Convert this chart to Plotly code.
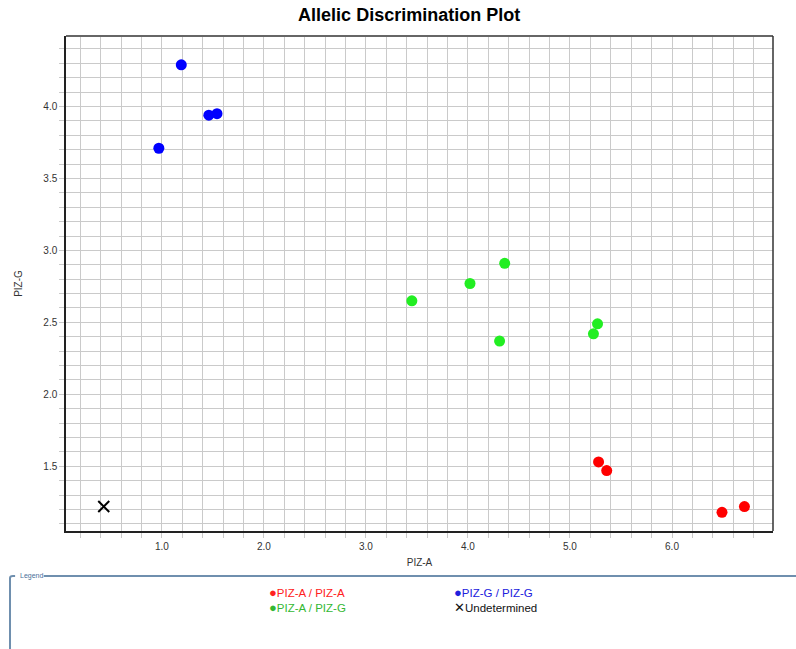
import plotly.graph_objects as go

# ---- data ----
aa_x = [5.28, 5.36, 6.49, 6.71]
aa_y = [1.53, 1.47, 1.18, 1.22]
gg_x = [0.97, 1.19, 1.46, 1.54]
gg_y = [3.71, 4.29, 3.94, 3.95]
ag_x = [3.45, 4.02, 4.36, 4.31, 5.23, 5.27]
ag_y = [2.65, 2.77, 2.91, 2.37, 2.42, 2.49]
und_x = [0.43]
und_y = [1.22]

legend_labels = ["PIZ-A / PIZ-A", "PIZ-G / PIZ-G", "PIZ-A / PIZ-G", "Undetermined"]

FONT = "Liberation Sans, Arial, sans-serif"

fig = go.Figure()
fig.add_trace(go.Scatter(x=aa_x, y=aa_y, mode="markers", name=legend_labels[0],
                         marker=dict(color="#ff0000", size=11)))
fig.add_trace(go.Scatter(x=gg_x, y=gg_y, mode="markers", name=legend_labels[1],
                         marker=dict(color="#0000ff", size=11)))
fig.add_trace(go.Scatter(x=ag_x, y=ag_y, mode="markers", name=legend_labels[2],
                         marker=dict(color="#22ee22", size=11)))
fig.add_trace(go.Scatter(x=und_x, y=und_y, mode="markers", name=legend_labels[3],
                         marker=dict(symbol="x-thin", color="black", size=11,
                                     line=dict(color="black", width=2))))

grid = "#cacaca"
axis_common = dict(
    showgrid=True, gridcolor=grid, gridwidth=1,
    ticks="outside", ticklen=5, tickcolor=grid, tickwidth=1,
    showline=True, linecolor="#222222", linewidth=1.5, mirror=False,
    zeroline=False, tickformat=".1f", automargin=False,
    tickfont=dict(family=FONT, size=10, color="#333333"),
)

fig.update_xaxes(range=[0.06, 6.99], tick0=0, dtick=1,
                 minor=dict(dtick=0.2, showgrid=True, gridcolor=grid, gridwidth=1,
                            ticks="outside", ticklen=5, tickcolor=grid),
                 title=dict(text="PIZ-A", font=dict(family=FONT, size=10, color="#333333"),
                            standoff=8),
                 **axis_common)
fig.update_yaxes(range=[1.05, 4.49], tick0=0, dtick=0.5,
                 minor=dict(dtick=0.1, showgrid=True, gridcolor=grid, gridwidth=1,
                            ticks="outside", ticklen=5, tickcolor=grid),
                 title=dict(text="PIZ-G", font=dict(family=FONT, size=10, color="#333333"),
                            standoff=19),
                 **axis_common)

# top (gray) and right (dark) borders like the reference
fig.add_shape(type="line", xref="paper", yref="paper", x0=0, x1=1, y0=1, y1=1,
              layer="above", line=dict(color="#666666", width=2))
fig.add_shape(type="line", xref="paper", yref="paper", x0=1, x1=1, y0=0, y1=1,
              layer="above", line=dict(color="#333333", width=1.5))

# legend frame
fc = "#6f8fae"
fig.add_shape(type="path", xref="paper", yref="paper",
              path="M -0.0792,-0.26 L -0.0792,-0.0947 Q -0.0792,-0.0907 -0.0750,-0.0907 L -0.0720,-0.0907",
              line=dict(color=fc, width=2))
fig.add_shape(type="line", xref="paper", yref="paper",
              x0=-0.0315, x1=1.06, y0=-0.0907, y1=-0.0907,
              line=dict(color=fc, width=2))

anns = [dict(text="Legend", x=-0.0685, y=-0.0907, xanchor="left", yanchor="middle",
             font=dict(family=FONT, size=7, color="#4a6f9a"))]
items = [
    (legend_labels[0], "#ff2020", "●", 0.2843, -0.125),
    (legend_labels[1], "#2020dd", "●", 0.5460, -0.125),
    (legend_labels[2], "#33b833", "●", 0.2843, -0.155),
    (legend_labels[3], "#111111", "✕", 0.5460, -0.155),
]
for lab, col, sym, px, py in items:
    anns.append(dict(text=f"<span style='font-size:13px'>{sym}</span>{lab}", x=px, y=py,
                     xanchor="left", yanchor="middle", showarrow=False,
                     font=dict(family=FONT, size=11.5, color=col)))
for a in anns:
    a.update(xref="paper", yref="paper", showarrow=False)

fig.update_layout(
    width=796, height=649,
    margin=dict(l=66, r=23, t=36, b=118),
    paper_bgcolor="white", plot_bgcolor="white",
    showlegend=False,
    title=dict(text="<b>Allelic Discrimination Plot</b>", x=0.514, xanchor="center",
               y=0.977, yanchor="middle",
               font=dict(family=FONT, size=18, color="black")),
    annotations=anns,
)

fig.write_html("out.html", config={"displayModeBar": False},
               post_script="document.body.style.margin='0';")
